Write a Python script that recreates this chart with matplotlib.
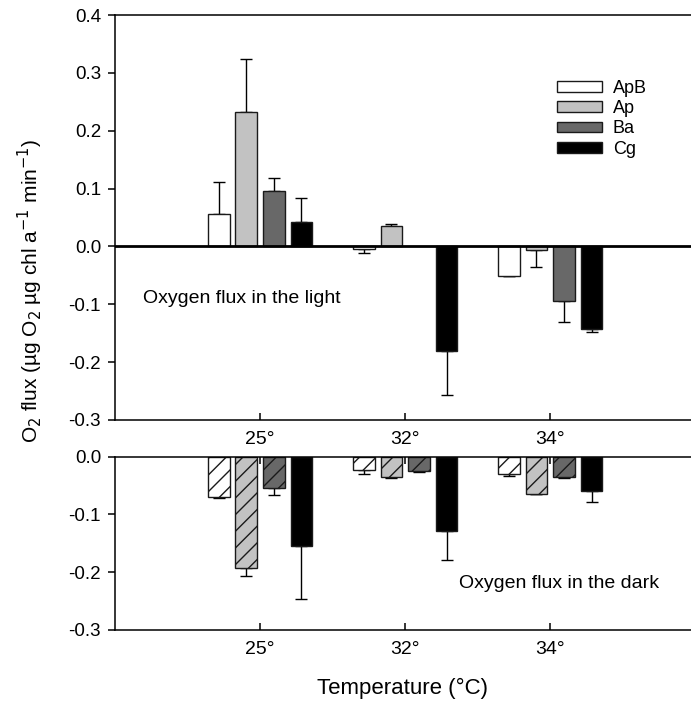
import matplotlib.pyplot as plt
import numpy as np

plt.rcParams["font.family"] = ["Liberation Sans", "DejaVu Sans"]
plt.rcParams["hatch.linewidth"] = 1.0

temps = ["25°", "32°", "34°"]
species = ["ApB", "Ap", "Ba", "Cg"]
colors = ["white", "#c2c2c2", "#686868", "black"]

# oxygen flux in the light (mean, one-sided error)
light = {
    "ApB": [0.056, -0.005, -0.051],
    "Ap":  [0.233, 0.035, -0.006],
    "Ba":  [0.096, np.nan, -0.094],
    "Cg":  [0.043, -0.180, -0.143],
}
light_err = {
    "ApB": [0.055, 0.006, 0.001],
    "Ap":  [0.091, 0.003, 0.030],
    "Ba":  [0.022, np.nan, 0.036],
    "Cg":  [0.041, 0.076, 0.005],
}

# oxygen flux in the dark
dark = {
    "ApB": [-0.070, -0.023, -0.030],
    "Ap":  [-0.192, -0.036, -0.064],
    "Ba":  [-0.055, -0.025, -0.036],
    "Cg":  [-0.154, -0.128, -0.059],
}
dark_err = {
    "ApB": [0.001, 0.007, 0.003],
    "Ap":  [0.014, 0.001, 0.001],
    "Ba":  [0.011, 0.001, 0.001],
    "Cg":  [0.093, 0.051, 0.019],
}

fig = plt.figure(figsize=(6.91, 7.01), dpi=100)
ax1 = fig.add_axes([0.1664, 0.4009, 0.8336, 0.5777])
ax2 = fig.add_axes([0.1664, 0.1013, 0.8336, 0.2472])

x = np.arange(1, 4)
step = 0.19
width = 0.15


def draw(ax, vals, errs, hatch):
    for i, sp in enumerate(species):
        v = np.array(vals[sp])
        e = np.array(errs[sp])
        pos = x + (i - 1.5) * step
        ax.bar(pos, v, width, color=colors[i], edgecolor="#1a1a1a", lw=1.0,
               hatch=hatch if sp != "Cg" else None, label=sp, zorder=2)
        lo = np.where(v < 0, e, 0)
        hi = np.where(v > 0, e, 0)
        ax.errorbar(pos, v, yerr=[lo, hi], fmt="none", ecolor="black",
                    elinewidth=1.0, capsize=4.5, capthick=1.0, zorder=1)


draw(ax1, light, light_err, None)
draw(ax2, dark, dark_err, "//")

for ax in (ax1, ax2):
    ax.set_xlim(0, 3.97)
    ax.set_xticks(x)
    ax.set_xticklabels(temps)
    ax.spines["right"].set_visible(False)
    for s in ax.spines.values():
        s.set_linewidth(1.1)
    ax.tick_params(axis="x", direction="in", length=5, width=1.1,
                   labelsize=14, pad=8)
    ax.tick_params(axis="y", direction="out", length=5, width=1.1,
                   labelsize=13.5, pad=5)

ax1.set_ylim(-0.3, 0.4)
ax1.set_yticks([0.4, 0.3, 0.2, 0.1, 0.0, -0.1, -0.2, -0.3])
ax1.set_yticklabels(["0.4", "0.3", "0.2", "0.1", "0.0", "-0.1", "-0.2", "-0.3"])
ax1.axhline(0, color="black", lw=2.0, zorder=3)
ax1.text(0.19, -0.09, "Oxygen flux in the light", fontsize=14, va="center")

ax2.set_ylim(-0.3, 0.0)
ax2.set_yticks([0.0, -0.1, -0.2, -0.3])
ax2.set_yticklabels(["0.0", "-0.1", "-0.2", "-0.3"])
ax2.tick_params(axis="x", top=True, labeltop=False)
ax2.text(2.37, -0.219, "Oxygen flux in the dark", fontsize=14, va="center")

ax2.set_xlabel("Temperature (°C)", fontsize=16, labelpad=14)
fig.text(0.044, 0.585,
         r"O$_2$ flux (µg O$_2$ µg chl a$^{-1}$ min$^{-1}$)",
         rotation=90, ha="center", va="center", fontsize=15)

handles, labels = ax1.get_legend_handles_labels()
ax1.legend(handles, labels, loc="upper left", bbox_to_anchor=(0.806, 0.886),
           bbox_transform=fig.transFigure, frameon=False, fontsize=13,
           handlelength=2.5, handleheight=0.55, labelspacing=0.18,
           handletextpad=0.6, borderpad=0, borderaxespad=0)

fig.savefig("out.png", dpi=100)
